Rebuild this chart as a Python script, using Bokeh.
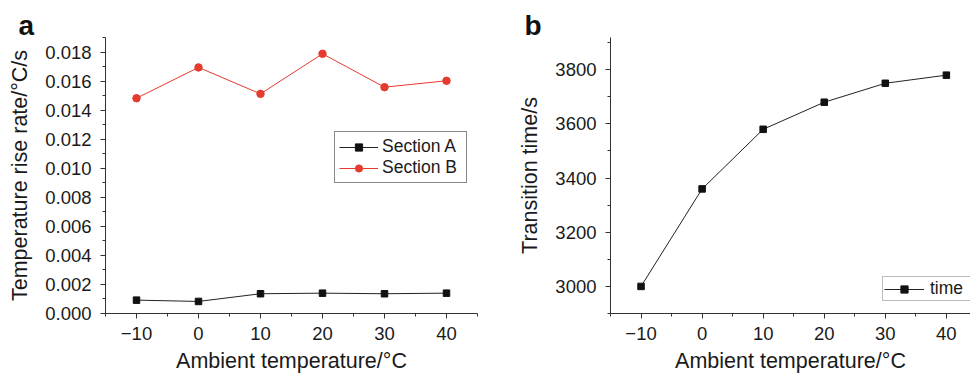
from bokeh.plotting import figure
from bokeh.layouts import row
from bokeh.models import Range1d, FixedTicker, Legend, LegendItem, Title
from bokeh.embed import file_html
from bokeh.resources import INLINE

# ---------------- data ----------------
ambient_temp = [-10, 0, 10, 20, 30, 40]
section_a = [0.00092, 0.00083, 0.00136, 0.00140, 0.00136, 0.00140]
section_b = [0.01482, 0.01694, 0.01512, 0.01788, 0.01558, 0.01602]
transition_time = [3000, 3360, 3580, 3680, 3750, 3780]

x_ticks = [-10, 0, 10, 20, 30, 40]
x_minor = [-15, -5, 5, 15, 25, 35, 45]
ya_ticks = [0.000, 0.002, 0.004, 0.006, 0.008, 0.010, 0.012, 0.014, 0.016, 0.018]
ya_minor = [0.001, 0.003, 0.005, 0.007, 0.009, 0.011, 0.013, 0.015, 0.017, 0.019]
yb_ticks = [3000, 3200, 3400, 3600, 3800]
yb_minor = [2900, 3100, 3300, 3500, 3700, 3900]

FONT = "Liberation Sans"
AX = "#333333"
RED = "#e53a2e"


def style(p):
    p.outline_line_color = None
    p.xgrid.visible = False
    p.ygrid.visible = False
    p.background_fill_color = "white"
    p.border_fill_color = "white"
    for ax in (p.xaxis[0], p.yaxis[0]):
        ax.axis_line_color = AX
        ax.major_tick_line_color = AX
        ax.minor_tick_line_color = AX
        ax.major_tick_out = 5
        ax.major_tick_in = 0
        ax.minor_tick_out = 3
        ax.minor_tick_in = 0
        ax.major_label_text_font = FONT
        ax.major_label_text_font_size = "18.5px"
        ax.major_label_text_color = "#1a1a1a"
        ax.axis_label_text_font = FONT
        ax.axis_label_text_font_size = "21.5px"
        ax.axis_label_text_font_style = "normal"
        ax.axis_label_text_color = "#1a1a1a"
    p.xaxis[0].major_label_standoff = 8
    p.xaxis[0].axis_label_standoff = 6
    p.yaxis[0].major_label_standoff = 9
    p.yaxis[0].axis_label_standoff = 10
    p.xaxis[0].ticker = FixedTicker(ticks=x_ticks, minor_ticks=x_minor)
    p.xaxis[0].major_label_overrides = {t: (f"\u2212{abs(t)}" if t < 0 else str(t)) for t in x_ticks}
    p.xaxis[0].axis_label = "Ambient temperature/°C"


def panel_title(p, text, offset, standoff):
    t = Title(text=text, align="left", text_font=FONT, text_font_size="28px",
              text_font_style="bold", text_color="#111111", offset=offset, standoff=standoff)
    p.add_layout(t, "above")


# ---------------- panel a ----------------
pa = figure(width=505, height=375, output_backend="svg", toolbar_location=None,
            x_range=Range1d(-15, 45), y_range=Range1d(0, 0.019),
            min_border_left=105, min_border_right=28, min_border_top=37, min_border_bottom=62)
style(pa)
pa.yaxis[0].ticker = FixedTicker(ticks=ya_ticks, minor_ticks=ya_minor)
pa.yaxis[0].major_label_overrides = {t: f"{t:.3f}" for t in ya_ticks}
pa.yaxis[0].axis_label = "Temperature rise rate/°C/s"
panel_title(pa, "a", -87, -6)

la = pa.line(ambient_temp, section_a, line_color="#222222", line_width=1)
sa = pa.scatter(ambient_temp, section_a, marker="square", size=6.5, fill_color="#111111", line_color="#111111")
lb = pa.line(ambient_temp, section_b, line_color=RED, line_width=1)
sb = pa.scatter(ambient_temp, section_b, marker="circle", size=7.5, fill_color=RED, line_color=RED)

leg_a = Legend(items=[LegendItem(label="Section A", renderers=[la, sa]),
                      LegendItem(label="Section B", renderers=[lb, sb])],
               location=(229, 130), padding=4, spacing=0, margin=0,
               glyph_width=39, glyph_height=18, label_standoff=4, label_width=80,
               label_text_font=FONT, label_text_font_size="17.5px", label_text_color="#1a1a1a",
               border_line_color="#111111", border_line_width=1.3, background_fill_alpha=1)
pa.add_layout(leg_a, "center")

# ---------------- panel b ----------------
pb = figure(width=465, height=375, output_backend="svg", toolbar_location=None,
            x_range=Range1d(-15, 43.95), y_range=Range1d(2900, 3919),
            min_border_left=105, min_border_right=0, min_border_top=37, min_border_bottom=62)
style(pb)
pb.yaxis[0].ticker = FixedTicker(ticks=yb_ticks, minor_ticks=yb_minor)
pb.yaxis[0].axis_label = "Transition time/s"
panel_title(pb, "b", -86, -6)

lt = pb.line(ambient_temp, transition_time, line_color="#222222", line_width=1)
st = pb.scatter(ambient_temp, transition_time, marker="square", size=6.5, fill_color="#111111", line_color="#111111")
leg_b = Legend(items=[LegendItem(label="time", renderers=[lt, st])],
               location=(272, 12), padding=1, spacing=0, margin=0,
               glyph_width=40, glyph_height=18, label_standoff=6, label_width=60,
               label_text_font=FONT, label_text_font_size="17.5px", label_text_color="#1a1a1a",
               border_line_color="#777777", border_line_width=1.3, background_fill_alpha=1)
pb.add_layout(leg_b, "center")

layout = row(pa, pb, spacing=0)
open("out.html", "w").write(file_html(layout, INLINE))
